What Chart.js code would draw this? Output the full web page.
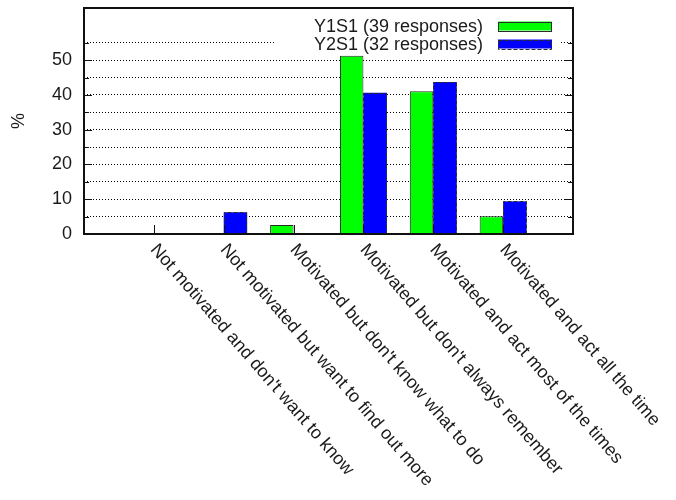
<!DOCTYPE html>
<html>
<head>
<meta charset="utf-8">
<script src="https://cdn.jsdelivr.net/npm/chart.js@4/dist/chart.umd.min.js"></script>
<style>
  html, body { margin: 0; padding: 0; background: #fff; }
  #wrap { width: 676px; height: 500px; }
</style>
</head>
<body>
<div id="wrap"><canvas id="c" width="676" height="500"></canvas></div>
<script>
// Answer categories
const categories = [
  "Not motivated and don't want to know",
  "Not motivated but want to find out more",
  "Motivated but don't know what to do",
  "Motivated but don't always remember",
  "Motivated and act most of the times",
  "Motivated and act all the time"
];
// Percent of responses per category
const y1s1Values = [0, 0, 2.56, 51.28, 41.03, 5.13];
const y2s1Values = [0, 6.25, 0, 40.625, 43.75, 9.375];
const seriesNames = ["Y1S1 (39 responses)", "Y2S1 (32 responses)"];
// Y axis tick positions and which of them carry labels
const yTickValues = [0, 5, 10, 15, 20, 25, 30, 35, 40, 45, 50, 55];
const yTickLabels = [0, 10, 20, 30, 40, 50];
const yMax = 65;

const FONT = "'Liberation Sans', Arial, Helvetica, sans-serif";
const TEXT = '#1a1a1a';
const GREEN = '#00ff00';
const BLUE = '#0000ff';
const EDGE = '#2b2b2b';

// one empty slot on each side so the groups sit one step in from the frame
const labels = ['', ...categories, ''];
const pad = arr => [null, ...arr, null];

const frameAndDecor = {
  id: 'frameAndDecor',
  afterDatasetsDraw(chart) {
    const ctx = chart.ctx;
    const area = chart.chartArea;

    // dashed outline on the second series' bars
    const meta = chart.getDatasetMeta(1);
    ctx.save();
    ctx.strokeStyle = EDGE;
    ctx.lineWidth = 1;
    ctx.setLineDash([4, 2]);
    meta.data.forEach(bar => {
      if (!bar || bar.y == null || isNaN(bar.y)) return;
      const h = bar.base - bar.y;
      if (h < 0.5) return;
      const l = Math.round(bar.x - bar.width / 2) + 0.5;
      const r = Math.round(bar.x + bar.width / 2) - 0.5;
      const t = Math.round(bar.y) + 0.5;
      ctx.beginPath();
      ctx.moveTo(l, bar.base);
      ctx.lineTo(l, t);
      ctx.lineTo(r, t);
      ctx.lineTo(r, bar.base);
      ctx.stroke();
    });
    ctx.restore();

    // key, on an opaque box in the top right corner
    ctx.save();
    ctx.font = '18px ' + FONT;
    const textRight = area.right - 90;
    const swL = area.right - 75;
    const swR = area.right - 21;
    const rows = [area.top + 18, area.top + 36];
    const maxW = Math.max(...seriesNames.map(s => ctx.measureText(s).width));
    const boxL = textRight - maxW - 40;
    ctx.fillStyle = '#fff';
    ctx.fillRect(boxL, area.top + 1, (area.right - 14) - boxL, rows[1] + 8 - area.top);
    ctx.fillStyle = TEXT;
    ctx.textAlign = 'right';
    ctx.textBaseline = 'middle';
    seriesNames.forEach((s, i) => ctx.fillText(s, textRight, rows[i] + 1));
    // swatches
    ctx.fillStyle = GREEN;
    ctx.fillRect(swL, rows[0] - 4.5, swR - swL, 9);
    ctx.strokeStyle = EDGE;
    ctx.lineWidth = 1;
    ctx.strokeRect(swL + 0.5, Math.round(rows[0] - 4.5) + 0.5, swR - swL - 1, 9);
    ctx.fillStyle = BLUE;
    ctx.fillRect(swL, rows[1] - 4.5, swR - swL, 9);
    ctx.setLineDash([4, 2]);
    ctx.strokeRect(swL + 0.5, Math.round(rows[1] - 4.5) + 0.5, swR - swL - 1, 9);
    ctx.restore();
  },
  afterDraw(chart) {
    const ctx = chart.ctx;
    const area = chart.chartArea;
    const xs = chart.scales.x;
    const ys = chart.scales.y;
    ctx.save();
    ctx.strokeStyle = '#111';
    ctx.lineWidth = 1;
    // inward tick marks on left and right sides
    yTickValues.forEach(v => {
      if (v === 0) return;
      const y = Math.round(ys.getPixelForValue(v)) + 0.5;
      const len = yTickLabels.includes(v) ? 8 : 5;
      ctx.beginPath();
      ctx.moveTo(area.left, y); ctx.lineTo(area.left + len, y);
      ctx.moveTo(area.right, y); ctx.lineTo(area.right - len, y);
      ctx.stroke();
    });
    // inward tick marks at each category
    categories.forEach((c, i) => {
      const x = Math.round(xs.getPixelForValue(i + 1)) + 0.5;
      ctx.beginPath();
      ctx.moveTo(x, area.bottom); ctx.lineTo(x, area.bottom - 9);
      ctx.stroke();
    });
    // frame
    ctx.lineWidth = 2;
    ctx.strokeRect(area.left, area.top, area.right - area.left, area.bottom - area.top);

    // slanted category labels
    ctx.fillStyle = TEXT;
    ctx.font = '18px ' + FONT;
    ctx.textAlign = 'left';
    ctx.textBaseline = 'alphabetic';
    categories.forEach((c, i) => {
      const x = xs.getPixelForValue(i + 1) - 4;
      const y = area.bottom + 16;
      ctx.save();
      ctx.translate(x, y);
      ctx.rotate(49 * Math.PI / 180);
      ctx.fillText(c, 0, 0);
      ctx.restore();
    });
    ctx.restore();
  }
};

new Chart(document.getElementById('c'), {
  type: 'bar',
  data: {
    labels: labels,
    datasets: [
      {
        label: seriesNames[0],
        data: pad(y1s1Values),
        backgroundColor: GREEN,
        borderColor: EDGE,
        borderWidth: 1,
        borderSkipped: 'start',
        categoryPercentage: 0.672,
        barPercentage: 1.0
      },
      {
        label: seriesNames[1],
        data: pad(y2s1Values),
        backgroundColor: BLUE,
        borderWidth: 0,
        categoryPercentage: 0.672,
        barPercentage: 1.0
      }
    ]
  },
  options: {
    responsive: false,
    animation: false,
    events: [],
    layout: { padding: { top: 8, right: 103, bottom: 266, left: 0 } },
    plugins: {
      legend: { display: false },
      tooltip: { enabled: false }
    },
    scales: {
      x: {
        type: 'category',
        offset: false,
        display: false,
        grid: { display: false }
      },
      y: {
        min: 0,
        max: yMax,
        afterBuildTicks: s => { s.ticks = yTickValues.map(v => ({ value: v })); },
        afterFit: s => { s.width = 84; s.paddingTop = 0; s.paddingBottom = 0; },
        ticks: {
          autoSkip: false,
          callback: v => (yTickLabels.includes(v) ? String(v) : ''),
          color: TEXT,
          font: { family: FONT, size: 18 },
          padding: 12
        },
        grid: {
          color: '#000',
          lineWidth: 1,
          drawTicks: false
        },
        border: { display: false, dash: [1, 2] },
        title: {
          display: true,
          text: '%',
          color: TEXT,
          font: { family: FONT, size: 18 },
          padding: { top: 8, bottom: 0 }
        }
      }
    }
  },
  plugins: [frameAndDecor]
});
</script>
</body>
</html>
